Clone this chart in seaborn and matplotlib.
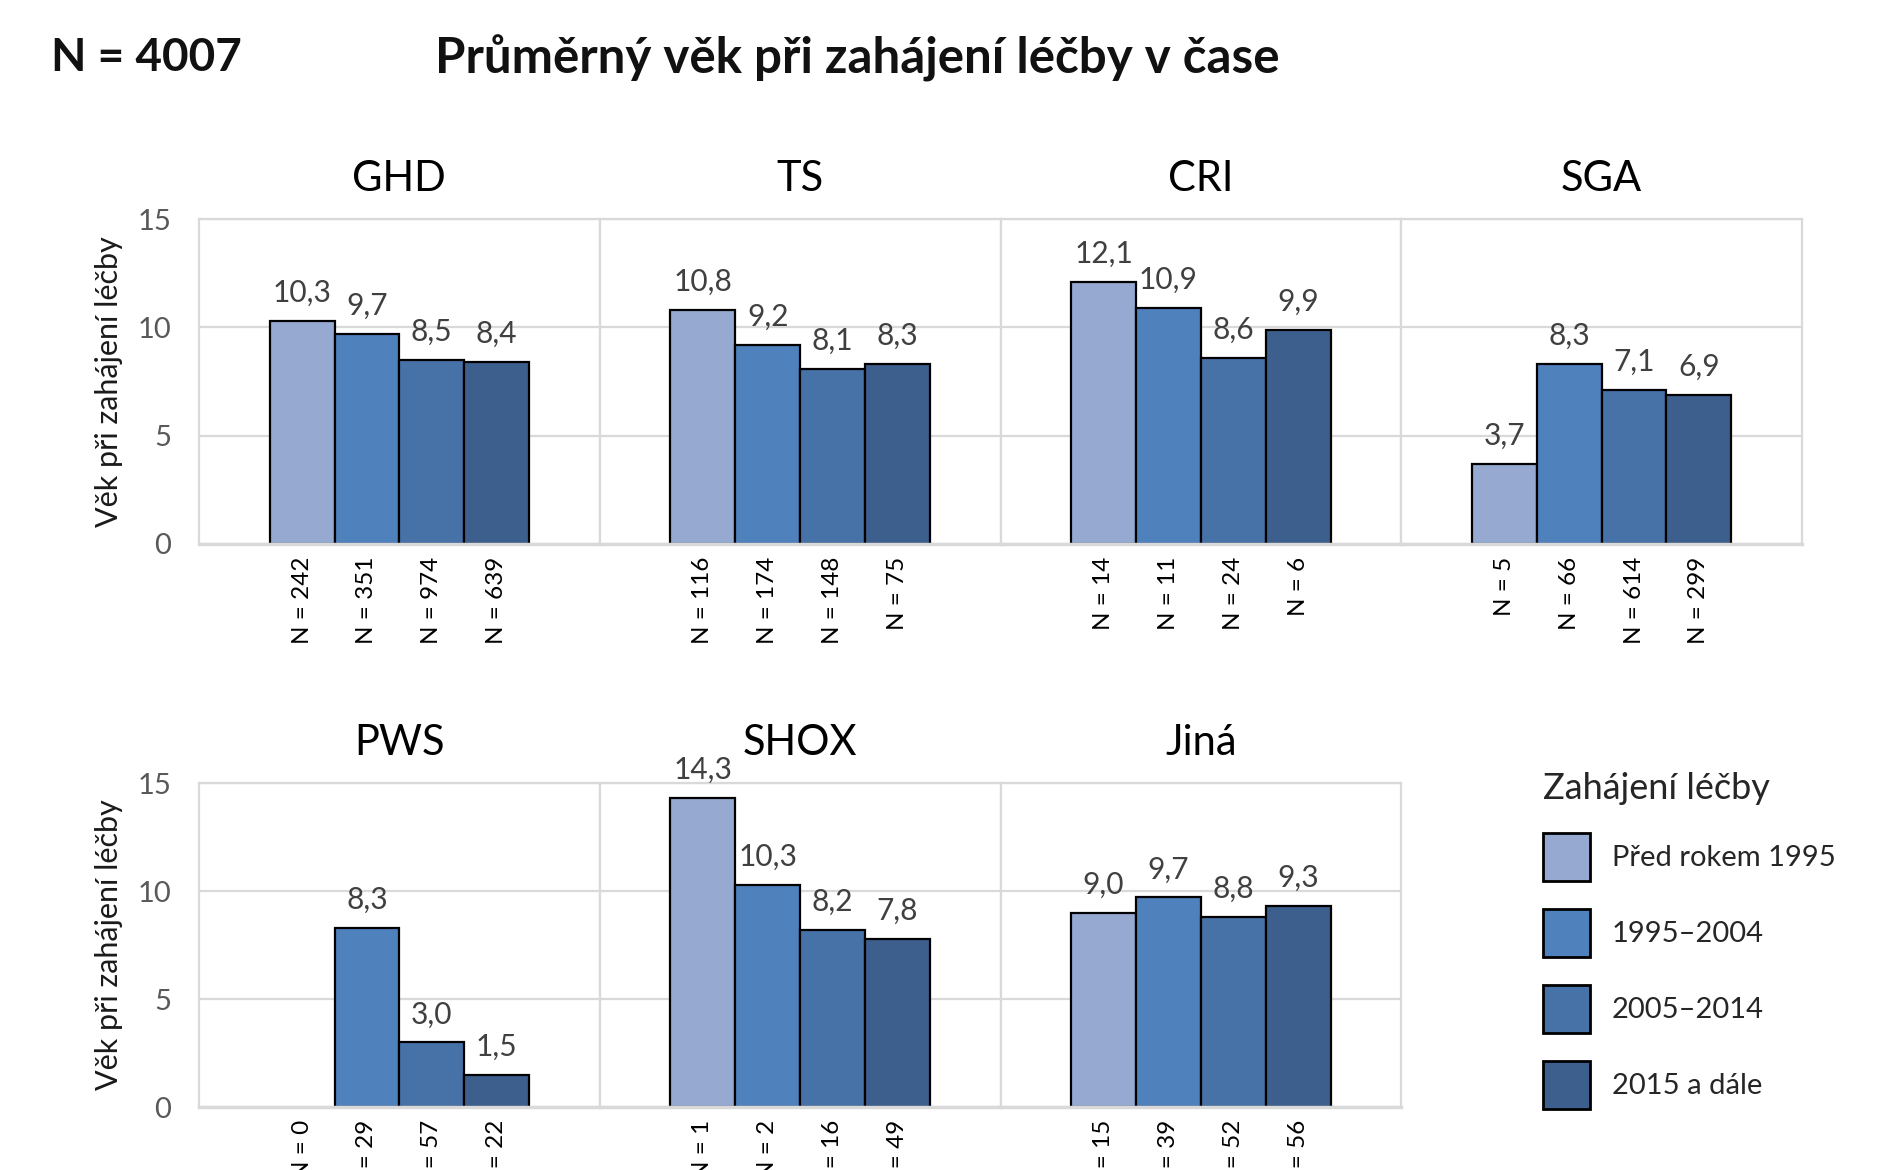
import numpy as np
import pandas as pd
import matplotlib
matplotlib.use("Agg")
import matplotlib.pyplot as plt
from matplotlib.patches import Patch
import seaborn as sns

# --- data ---
PERIODS = ["Před rokem 1995", "1995–2004", "2005–2014", "2015 a dále"]
COLORS = ["#95A9D1", "#4F81BD", "#4672A8", "#3D5F8E"]

GROUPS = ["GHD", "TS", "CRI", "SGA", "PWS", "SHOX", "Jiná"]

AGE_GHD = [10.3, 9.7, 8.5, 8.4]
AGE_TS = [10.8, 9.2, 8.1, 8.3]
AGE_CRI = [12.1, 10.9, 8.6, 9.9]
AGE_SGA = [3.7, 8.3, 7.1, 6.9]
AGE_PWS = [np.nan, 8.3, 3.0, 1.5]
AGE_SHOX = [14.3, 10.3, 8.2, 7.8]
AGE_JINA = [9.0, 9.7, 8.8, 9.3]

N_GHD = [242, 351, 974, 639]
N_TS = [116, 174, 148, 75]
N_CRI = [14, 11, 24, 6]
N_SGA = [5, 66, 614, 299]
N_PWS = [0, 29, 57, 22]
N_SHOX = [1, 2, 16, 49]
N_JINA = [15, 39, 52, 56]

AGES = [AGE_GHD, AGE_TS, AGE_CRI, AGE_SGA, AGE_PWS, AGE_SHOX, AGE_JINA]
COUNTS = [N_GHD, N_TS, N_CRI, N_SGA, N_PWS, N_SHOX, N_JINA]

TOTAL_N = 4007
TITLE = "Průměrný věk při zahájení léčby v čase"
YLABEL = "Věk při zahájení léčby"
LEGEND_TITLE = "Zahájení léčby"

rows = []
for g, ages, ns in zip(GROUPS, AGES, COUNTS):
    for p, a, n in zip(PERIODS, ages, ns):
        rows.append({"group": g, "period": p, "age": a, "n": n})
df = pd.DataFrame(rows)

sns.set_style("white")
plt.rcParams["font.family"] = ["Lato", "DejaVu Sans"]

W, H = 1888, 1170
fig = plt.figure(figsize=(W / 100, H / 100), dpi=100)

GRID = "#D9D9D9"
PANEL_W = 400.75
TOP_ROW = (219, 544)
BOT_ROW = (783, 1107)
LEFT = 199


def fmt(v):
    return f"{v:.1f}".replace(".", ",")


for i, g in enumerate(GROUPS):
    row = 0 if i < 4 else 1
    col = i if i < 4 else i - 4
    top, bottom = TOP_ROW if row == 0 else BOT_ROW
    x0 = LEFT + col * PANEL_W
    ax = fig.add_axes([x0 / W, 1 - bottom / H, PANEL_W / W, (bottom - top) / H])

    sub = df[df["group"] == g]
    sns.barplot(data=sub, x="period", y="age", hue="period", order=PERIODS,
                hue_order=PERIODS, palette=COLORS, saturation=1, width=1.0,
                edgecolor="black", linewidth=1.6, legend=False, ax=ax,
                errorbar=None)

    for c in ax.containers:
        labels = [fmt(v) if np.isfinite(v) else "" for v in c.datavalues]
        ax.bar_label(c, labels=labels, padding=10, fontsize=21.5, color="#404040")

    ax.set_xlim(-1.59, 4.59)
    ax.set_ylim(0, 15)
    ax.set_yticks([0, 5, 10, 15])
    ax.yaxis.grid(True, color=GRID, linewidth=1.6)
    ax.set_axisbelow(True)
    for s in ax.spines.values():
        s.set_color(GRID)
        s.set_linewidth(1.6)
    ax.spines["bottom"].set_linewidth(2.5)

    ax.set_xticks(range(len(PERIODS)))
    ax.set_xticklabels([f"N = {n}" for n in sub["n"]], rotation=90,
                       fontsize=17.5, color="black", va="top")
    ax.tick_params(axis="x", length=0, pad=9)
    ax.set_xlabel("")

    if col == 0:
        ax.tick_params(axis="y", length=0, pad=20, labelsize=21, labelcolor="#595959")
        ax.set_ylabel(YLABEL, fontsize=22, color="#1a1a1a", labelpad=10)
    else:
        ax.tick_params(axis="y", length=0, labelleft=False)
        ax.set_ylabel("")

    ax.set_title(g, fontsize=30, color="black", pad=20)

fig.text(51 / W, 1 - 58 / H, f"N = {TOTAL_N}", fontsize=33, fontweight="bold",
         ha="left", va="center", color="#111111")
fig.text(435 / W, 1 - 58 / H, TITLE, fontsize=35.5, fontweight="bold",
         ha="left", va="center", color="#111111")

handles = [Patch(facecolor=c, edgecolor="black", linewidth=2) for c in COLORS]
leg = fig.legend(handles, PERIODS, loc="upper left",
                 bbox_to_anchor=(1543 / W, 1 - 772 / H), frameon=False,
                 fontsize=21, title=LEGEND_TITLE, title_fontsize=26,
                 handlelength=1.6, handleheight=2.17, handletextpad=0.75,
                 labelspacing=0.95, borderpad=0, borderaxespad=0,
                 alignment="left")

fig.savefig("out.png", dpi=100)
